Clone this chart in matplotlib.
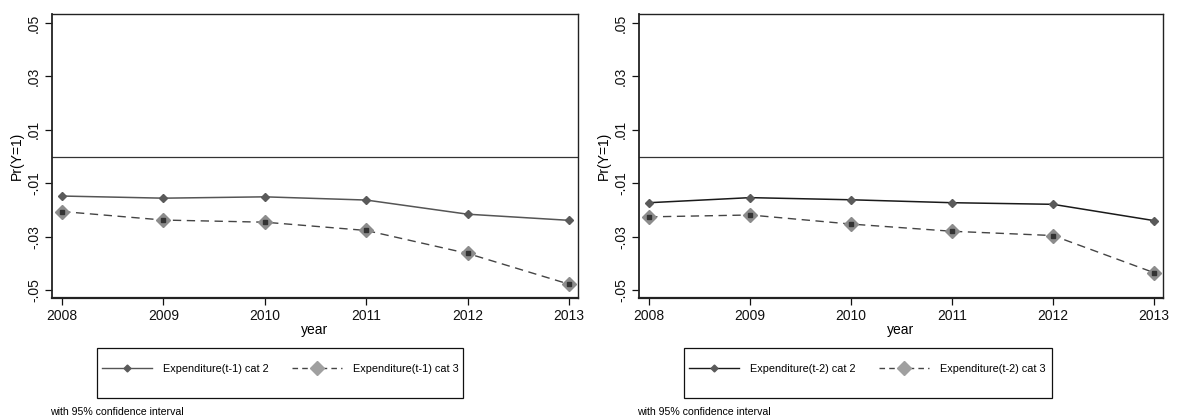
import matplotlib
matplotlib.use("Agg")
import matplotlib.pyplot as plt
from matplotlib.lines import Line2D
from matplotlib.patches import Rectangle

plt.rcParams['font.family'] = ['Liberation Sans', 'DejaVu Sans']

years = [2008, 2009, 2010, 2011, 2012, 2013]
ytick_vals = [-0.05, -0.03, -0.01, 0.01, 0.03, 0.05]
ytick_labels = ["-.05", "-.03", "-.01", ".01", ".03", ".05"]

# lag 1 expenditure effects
lag1_cat2 = [-0.0148, -0.0156, -0.0151, -0.0163, -0.0216, -0.0239]
lag1_cat3 = [-0.0206, -0.0238, -0.0246, -0.0277, -0.0363, -0.0478]
# lag 2 expenditure effects
lag2_cat2 = [-0.0173, -0.0154, -0.0162, -0.0173, -0.0179, -0.0240]
lag2_cat3 = [-0.0226, -0.0219, -0.0253, -0.0280, -0.0296, -0.0435]

panels = [
    dict(cat2=lag1_cat2, cat3=lag1_cat3, lab2="Expenditure(t-1) cat 2",
         lab3="Expenditure(t-1) cat 3", ax_px=(52, 578), leg_px=(97, 463),
         line2="#555555"),
    dict(cat2=lag2_cat2, cat3=lag2_cat3, lab2="Expenditure(t-2) cat 2",
         lab3="Expenditure(t-2) cat 3", ax_px=(639, 1163), leg_px=(684, 1052),
         line2="#1a1a1a"),
]

W, H = 1177, 417
fig = plt.figure(figsize=(W / 100, H / 100), dpi=100)

def fx(px):
    return px / W

def fy(py):
    return 1 - py / H

for p in panels:
    x0, x1 = p["ax_px"]
    ax = fig.add_axes([fx(x0), fy(298), fx(x1 - x0), fy(14) - fy(298)])
    ax.set_xlim(2007.9, 2013.09)
    ax.set_ylim(-0.053, 0.0534)
    ax.axhline(0, color="#333333", lw=0.9, zorder=1)

    ax.plot(years, p["cat2"], color=p["line2"], lw=1.1, zorder=3)
    ax.plot(years, p["cat2"], ls="none", marker="D", ms=4, color="#5a5a5a",
            mec="#5a5a5a", zorder=4)
    ax.plot(years, p["cat3"], color="#444444", lw=1.0, ls=(0, (6, 4)), zorder=3)
    ax.plot(years, p["cat3"], ls="none", marker="D", ms=7, color="#8c8c8c",
            mec="#8c8c8c", zorder=4)
    ax.plot(years, p["cat3"], ls="none", marker="s", ms=3, color="#333333",
            zorder=5)

    ax.set_xticks(years)
    ax.set_xticklabels([str(y) for y in years], fontsize=10)
    ax.set_yticks(ytick_vals)
    ax.set_yticklabels(ytick_labels, fontsize=10, rotation=90, va="center")
    ax.tick_params(axis="both", direction="out", length=5, width=0.9,
                   colors="#111111", top=False, right=False)
    ax.tick_params(axis="x", pad=3)
    ax.tick_params(axis="y", pad=3)
    for s in ax.spines.values():
        s.set_color("#222222")
        s.set_linewidth(1.0)
    ax.spines["bottom"].set_linewidth(1.6)
    ax.spines["left"].set_linewidth(1.3)
    ax.set_xlabel("year", fontsize=10, labelpad=0)
    ax.set_ylabel("Pr(Y=1)", fontsize=10, labelpad=2)

    # legend frame and entries
    lx0, lx1 = p["leg_px"]
    fig.patches.append(Rectangle((fx(lx0), fy(398)), fx(lx1 - lx0), fy(348) - fy(398),
                                 transform=fig.transFigure, fill=False,
                                 ec="#111111", lw=0.9))
    h2 = Line2D([], [], color=p["line2"], lw=1.0, marker="D", ms=3.5,
                mfc="#5a5a5a", mec="#5a5a5a")
    h3 = Line2D([], [], color="#444444", lw=1.0, ls=(0, (4, 3)), marker="D",
                ms=7, mfc="#a0a0a0", mec="#a0a0a0")
    fig.legend([h2, h3], [p["lab2"], p["lab3"]], ncol=2, frameon=False,
               fontsize=7.8, handlelength=4.6, handletextpad=1.0,
               columnspacing=2.2, borderpad=0, borderaxespad=0,
               loc="center left",
               bbox_to_anchor=(fx(lx0 + 5), fy(369)))

    fig.text(fx(x0 - 2), fy(412), "with 95% confidence interval", fontsize=7.6,
             va="center", ha="left")

fig.savefig("out.png", dpi=100, facecolor="white")
